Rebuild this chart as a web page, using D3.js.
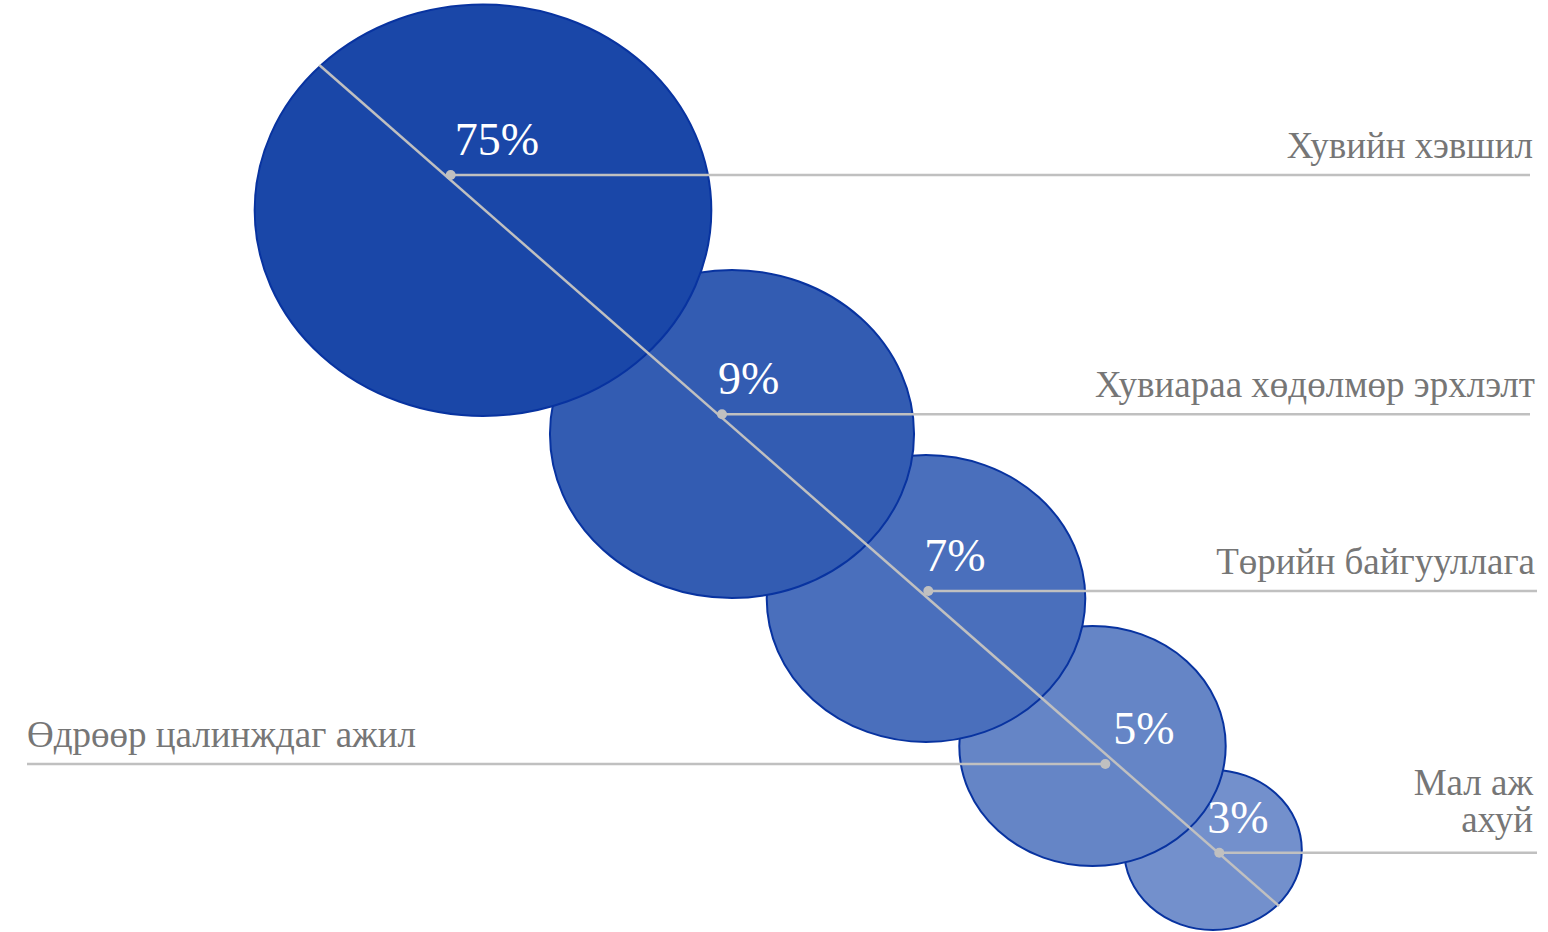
<!DOCTYPE html>
<html>
<head>
<meta charset="utf-8">
<script src="https://cdn.jsdelivr.net/npm/d3@7"></script>
<style>
  html, body { margin: 0; padding: 0; background: #ffffff; }
  svg { display: block; }
</style>
</head>
<body>
<svg id="chart" width="1548" height="932"></svg>
<script>
// ---- data ----
const categories = [
  "Хувийн хэвшил",
  "Хувиараа хөдөлмөр эрхлэлт",
  "Төрийн байгууллага",
  "Өдрөөр цалинждаг ажил",
  "Мал аж ахуй"
];
const values = [75, 9, 7, 5, 3];
const labelLines = [
  ["Хувийн хэвшил"],
  ["Хувиараа хөдөлмөр эрхлэлт"],
  ["Төрийн байгууллага"],
  ["Өдрөөр цалинждаг ажил"],
  ["Мал аж", "ахуй"]
];
const labelSide = ["right", "right", "right", "left", "right"];

// ---- layout scales ----
const svg = d3.select("#chart");

const cx = d3.scaleOrdinal(categories, [483, 732, 926, 1092.5, 1213]);
const cy = d3.scaleOrdinal(categories, [210.3, 434, 598.5, 746, 850]);
const ry = d3.scaleOrdinal(categories, [205.7, 164, 143.5, 120, 80]);
const aspect = 1.11;
const fill = d3.scaleOrdinal(categories, ["#1a47a8", "#335cb2", "#4a6fbc", "#6585c6", "#7390cc"]);

// anchor dots for leader lines
const ax = d3.scaleOrdinal(categories, [450.7, 722, 928.3, 1105.3, 1219.3]);
const ay = d3.scaleOrdinal(categories, [175, 414.3, 591, 764, 852.7]);
const lineEnd = d3.scaleOrdinal(categories, [1530, 1530, 1537, 27, 1537]);
const textX = d3.scaleOrdinal(categories, [1533, 1535, 1535, 27, 1533]);
const pctDx = d3.scaleOrdinal(categories, [4, -4, -4, 8, -12]);

// diagonal
const diag = { x: d3.scaleLinear([0, 1], [319.3, 1279]), y: d3.scaleLinear([0, 1], [65, 906]) };

const data = categories.map((c, i) => ({ cat: c, value: values[i], lines: labelLines[i], side: labelSide[i] }));

const serif = "'Liberation Serif', 'Times New Roman', serif";
const grey = "#c0c0c0";
const labelSize = 37;
const lineGap = 37;

// ellipses: draw smallest first so larger sit on top
svg.append("g").selectAll("ellipse")
  .data(data.slice().reverse())
  .join("ellipse")
  .attr("cx", d => cx(d.cat))
  .attr("cy", d => cy(d.cat))
  .attr("rx", d => ry(d.cat) * aspect)
  .attr("ry", d => ry(d.cat))
  .attr("fill", d => fill(d.cat))
  .attr("stroke", "#0833a0")
  .attr("stroke-width", 2);

// diagonal line
svg.append("line")
  .attr("x1", diag.x(0)).attr("y1", diag.y(0))
  .attr("x2", diag.x(1)).attr("y2", diag.y(1))
  .attr("stroke", grey).attr("stroke-width", 2.5);

// leader lines
svg.append("g").selectAll("line")
  .data(data)
  .join("line")
  .attr("x1", d => ax(d.cat)).attr("y1", d => ay(d.cat))
  .attr("x2", d => lineEnd(d.cat)).attr("y2", d => ay(d.cat))
  .attr("stroke", grey).attr("stroke-width", 2.5);

// dots
svg.append("g").selectAll("circle")
  .data(data)
  .join("circle")
  .attr("cx", d => ax(d.cat)).attr("cy", d => ay(d.cat))
  .attr("r", 5)
  .attr("fill", grey);

// percent labels
svg.append("g").selectAll("text")
  .data(data)
  .join("text")
  .attr("x", d => ax(d.cat) + pctDx(d.cat))
  .attr("y", d => ay(d.cat) - 20)
  .attr("fill", "#ffffff")
  .attr("font-family", serif)
  .attr("font-size", 46)
  .text(d => d.value + "%");

// category labels
const lab = svg.append("g").selectAll("text")
  .data(data)
  .join("text")
  .attr("y", d => ay(d.cat) - (d.lines.length > 1 ? 21 : 17) - (d.lines.length - 1) * lineGap)
  .attr("text-anchor", d => d.side === "left" ? "start" : "end")
  .attr("fill", "#767676")
  .attr("font-family", serif)
  .attr("font-size", labelSize);

lab.selectAll("tspan")
  .data(d => d.lines.map(l => ({ l, d })))
  .join("tspan")
  .attr("x", t => textX(t.d.cat))
  .attr("dy", (t, i) => i === 0 ? 0 : lineGap)
  .text(t => t.l);
</script>
</body>
</html>
